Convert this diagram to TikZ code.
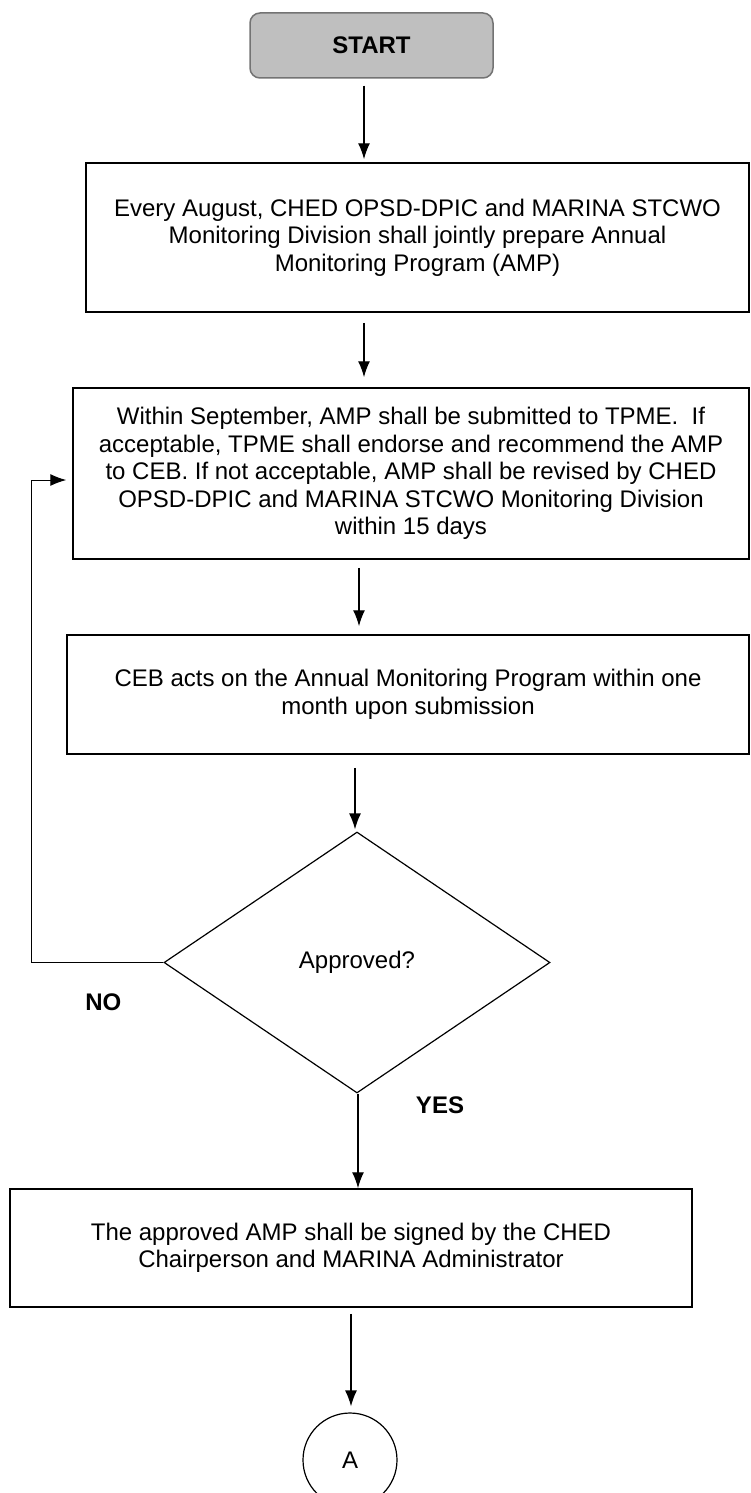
\documentclass[tikz,border=0pt]{standalone}
\usepackage{fontspec}
\setmainfont{Liberation Sans}
\usetikzlibrary{arrows.meta,calc,positioning,shapes.geometric}
\tikzset{every picture/.style={
  >={Latex[length=16pt,width=12pt]}   % Filled triangle arrow heads.
  }
}

\begin{document}
\begin{tikzpicture}[
    x=1pt,y=-1pt,
    font=\fontsize{24}{27.5}\selectfont,
    box/.style={
      draw,
      line width=1.5pt,
      align=center,
      inner sep=0pt
    },
    flow/.style={->,line width=1.4pt},
    lbl/.style={font=\fontsize{24}{27.5}\selectfont\bfseries}
  ]
  \useasboundingbox (0,0) rectangle (751,1493);

  % The start terminal.
  \node[box,rounded corners=10pt,fill=black!25,draw=black!55,
    minimum width=243pt,minimum height=65pt,lbl]
    (start) at (371.5,45.5) {START};

  % The process boxes.
  \node[box,minimum width=663pt,minimum height=149pt]
    (prep) at (417.5,237.5)
    {Every August, CHED OPSD-DPIC and MARINA STCWO\\
     Monitoring Division shall jointly prepare Annual\\
     Monitoring Program (AMP)};
  \node[box,minimum width=676pt,minimum height=171pt]
    (review) at (411,473.5)
    {Within September, AMP shall be submitted to TPME.\ \ If\\
     acceptable, TPME shall endorse and recommend the AMP\\
     to CEB. If not acceptable, AMP shall be revised by CHED\\
     OPSD-DPIC and MARINA STCWO Monitoring Division\\
     within 15 days};
  \node[box,minimum width=682pt,minimum height=119pt]
    (act) at (408,694.5)
    {CEB acts on the Annual Monitoring Program within one\\
     month upon submission};

  % The decision.
  \node[draw,diamond,line width=1.2pt,inner sep=0pt,
    minimum width=386pt,minimum height=261pt]
    (dec) at (357,962.5) {Approved?};
  \node[lbl] (no) at ([shift={(-60,40)}] dec.west) {NO};
  \node[lbl] (yes) at ([shift={(83,12)}] dec.south) {YES};

  \node[box,minimum width=682pt,minimum height=118pt]
    (sign) at (351,1248)
    {The approved AMP shall be signed by the CHED\\
     Chairperson and MARINA Administrator};

  % Off-page connector.
  \node[draw,circle,line width=1.2pt,inner sep=0pt,minimum size=94pt]
    (conn) at (350,1460) {A};

  % Link the steps downwards.
  \foreach \a/\b/\dx/\s/\e in {start/prep/-7.5/7/3, prep/review/-53.5/10/10,
      review/act/-52/8/8, act/dec/-53/13/2, dec/sign/1/0/0, sign/conn/0/6/6} {
    \draw[flow,shorten <=\s pt,shorten >=\e pt] ([xshift=\dx pt] \a.south)
      -- ([xshift=\dx pt] \a.south |- \b.north);
  };

  % The NO branch goes back to the review.
  \coordinate (back) at (31,480);
  \draw[->,line width=1pt,shorten >=6pt] (dec.west) -| (back)
    -- (back -| review.west);
\end{tikzpicture}
\end{document}
